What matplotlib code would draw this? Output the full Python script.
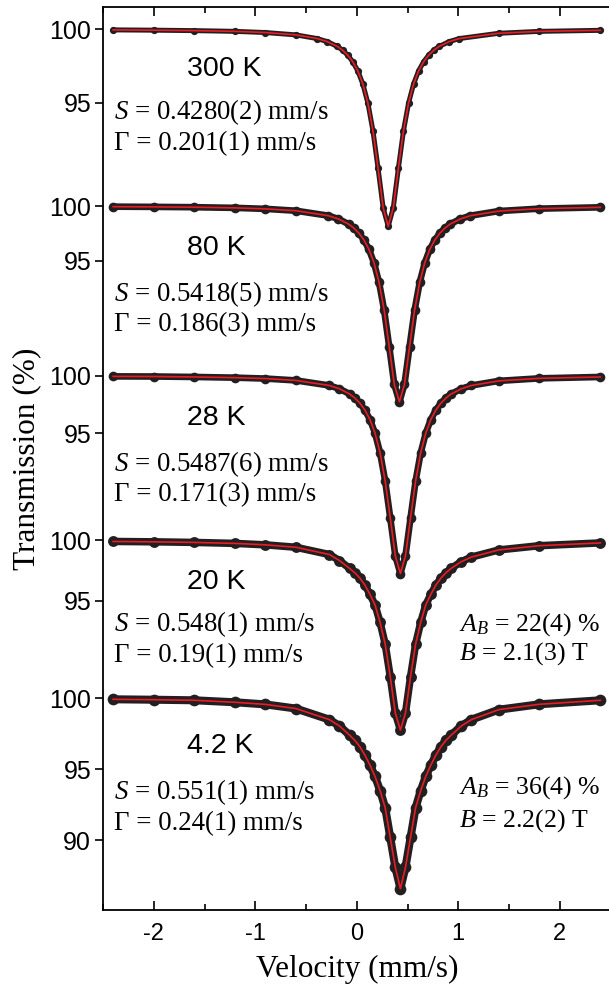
import matplotlib
matplotlib.use('Agg')
import matplotlib.pyplot as plt
from matplotlib.ticker import MultipleLocator

plt.rcParams['font.family'] = ['Liberation Sans', 'DejaVu Sans']
plt.rcParams['mathtext.fontset'] = 'custom'
plt.rcParams['mathtext.rm'] = 'Liberation Serif'
plt.rcParams['mathtext.it'] = 'Liberation Serif:italic'
plt.rcParams['axes.unicode_minus'] = False

# Spectra: velocity (mm/s) and transmission (%)
v300 = [-2.4, -2.0, -1.6, -1.2, -0.9, -0.6, -0.39, -0.29, -0.19, -0.14, -0.09, -0.04, 0.01, 0.06,
        0.11, 0.16, 0.21, 0.26, 0.31, 0.36, 0.41, 0.46, 0.51, 0.56, 0.61, 0.66, 0.71, 0.76, 0.81,
        0.91, 1.01, 1.4, 1.8, 2.4]
t300 = [99.96, 99.94, 99.91, 99.86, 99.78, 99.62, 99.37, 99.16, 98.83, 98.58, 98.25, 97.80, 97.18, 96.28,
        94.97, 93.08, 90.54, 87.86, 86.60, 87.86, 90.54, 93.08, 94.97, 96.28, 97.18, 97.80, 98.25, 98.58, 98.83,
        99.16, 99.37, 99.73, 99.86, 99.93]

v80 = [-2.4, -2.0, -1.6, -1.2, -0.9, -0.6, -0.28, -0.18, -0.08, -0.03, 0.02, 0.07, 0.12, 0.17,
       0.22, 0.27, 0.32, 0.37, 0.42, 0.47, 0.52, 0.57, 0.62, 0.67, 0.72, 0.77, 0.82, 0.87, 0.92,
       1.02, 1.12, 1.4, 1.8, 2.4]
t80 = [99.94, 99.92, 99.89, 99.83, 99.74, 99.57, 99.12, 98.82, 98.35, 98.0, 97.54, 96.92, 96.06, 94.83,
       93.05, 90.53, 87.2, 83.78, 82.2, 83.78, 87.2, 90.53, 93.05, 94.83, 96.06, 96.92, 97.54, 98.0, 98.35,
       98.82, 99.12, 99.54, 99.76, 99.88]

v28 = [-2.4, -2.0, -1.6, -1.2, -0.9, -0.6, -0.27, -0.17, -0.07, -0.02, 0.03, 0.08, 0.13, 0.18,
       0.23, 0.28, 0.33, 0.38, 0.43, 0.48, 0.53, 0.58, 0.63, 0.68, 0.73, 0.78, 0.83, 0.88, 0.93,
       1.03, 1.13, 1.4, 1.8, 2.4]
t28 = [99.94, 99.93, 99.89, 99.83, 99.75, 99.59, 99.15, 98.86, 98.41, 98.07, 97.62, 97.02, 96.19, 95.01,
       93.29, 90.85, 87.64, 84.33, 82.8, 84.33, 87.64, 90.85, 93.29, 95.01, 96.19, 97.02, 97.62, 98.07, 98.41,
       98.86, 99.15, 99.55, 99.77, 99.89]

v20 = [-2.4, -2.0, -1.6, -1.2, -0.9, -0.6, -0.27, -0.17, -0.07, -0.02, 0.03, 0.08, 0.13, 0.18,
       0.23, 0.28, 0.33, 0.38, 0.43, 0.48, 0.53, 0.58, 0.63, 0.68, 0.73, 0.78, 0.83, 0.88, 0.93,
       1.03, 1.13, 1.4, 1.8, 2.4]
t20 = [99.88, 99.85, 99.8, 99.72, 99.6, 99.4, 98.8, 98.3, 97.65, 97.3, 96.86, 96.28, 95.51, 94.64,
       93.19, 91.4, 88.7, 85.7, 84.3, 85.7, 88.7, 91.4, 93.19, 94.64, 95.51, 96.28, 96.86, 97.3, 97.65,
       98.21, 98.59, 99.18, 99.53, 99.76]

v4 = [-2.4, -2.0, -1.6, -1.2, -0.9, -0.6, -0.27, -0.17, -0.07, -0.02, 0.03, 0.08, 0.13, 0.18,
      0.23, 0.28, 0.33, 0.38, 0.43, 0.48, 0.53, 0.58, 0.63, 0.68, 0.73, 0.78, 0.83, 0.88, 0.93,
      1.03, 1.13, 1.4, 1.8, 2.4]
t4 = [99.93, 99.9, 99.86, 99.72, 99.57, 99.28, 98.5, 98.05, 97.4, 97.05, 96.6, 96.0, 95.3, 94.5,
      93.5, 92.3, 90.2, 88.1, 86.6, 88.1, 90.2, 92.3, 93.5, 94.5, 95.3, 96.0, 96.6, 97.05, 97.4,
      98.05, 98.5, 99.2, 99.58, 99.86]

temps = ['300 K', '80 K', '28 K', '20 K', '4.2 K']
s_labels = ['0.4280(2)', '0.5418(5)', '0.5487(6)', '0.548(1)', '0.551(1)']
g_labels = ['0.201(1)', '0.186(3)', '0.171(3)', '0.19(1)', '0.24(1)']
ab_labels = [None, None, None, '22(4)', '36(4)']
b_labels = [None, None, None, '2.1(3)', '2.2(2)']
yticks = [[100, 95], [100, 95], [100, 95], [100, 95], [100, 95, 90]]

spectra = [(v300, t300), (v80, t80), (v28, t28), (v20, t20), (v4, t4)]

# layout (pixels): where 100 % sits in each panel and pixels per %
y100_px = [29.3, 206, 375.7, 540, 698.3]
px_per_pct = [14.7, 11.0, 11.5, 12.1, 14.2]
band_w = [3.6, 4.8, 4.8, 5.4, 5.8]
# text heights in each panel (in % units): temperature, S, Gamma, A_B, B
txt_y = [(97.3, 94.37, 92.2, None, None),
         (96.18, 92.0, 89.18, None, None),
         (96.32, 92.32, 89.63, None, None),
         (96.53, 93.06, 90.41, 92.98, 90.58),
         (96.64, 93.40, 91.15, 93.68, 91.36)]

W, H = 609, 988
left, right, top, bottom = 103, 610.5, 7, 910
rect = [left / W, 1 - bottom / H, (right - left) / W, (bottom - top) / H]

fig = plt.figure(figsize=(W / 100, H / 100), dpi=100)
ax = fig.add_axes(rect)
ax.set_xlim(-2.5, 2.5)
ax.set_ylim(0, 1)
ax.set_yticks([])
ax.spines['right'].set_visible(False)
for s in ['left', 'top', 'bottom']:
    ax.spines[s].set_linewidth(1.3)
ax.xaxis.set_major_locator(MultipleLocator(1))
ax.xaxis.set_minor_locator(MultipleLocator(0.5))
ax.tick_params(axis='x', which='both', direction='in', top=True, bottom=True,
               labelsize=17, pad=9, width=1.2)
ax.tick_params(axis='x', which='major', length=6.5)
ax.tick_params(axis='x', which='minor', length=4)
ax.set_xlabel('Velocity (mm/s)', family='Liberation Serif', fontsize=22.5)
ax.xaxis.set_label_coords(0.5, -0.05)
ax.set_ylabel('Transmission (%)', family='Liberation Serif', fontsize=22.5)
ax.yaxis.set_label_coords((41 - left) / (right - left), 0.5)

dark = '#231f20'
red = '#ec1c24'
serif = 'Liberation Serif'

for i, (v, t) in enumerate(spectra):
    k = px_per_pct[i]
    lo = 100 - (bottom - y100_px[i]) / k
    hi = 100 + (y100_px[i] - top) / k
    pax = fig.add_axes(rect)
    pax.patch.set_visible(False)
    for s in pax.spines.values():
        s.set_visible(False)
    pax.set_xlim(-2.5, 2.5)
    pax.set_ylim(lo, hi)
    pax.set_xticks([])
    pax.set_yticks(yticks[i])
    pax.tick_params(axis='y', direction='out', length=6, width=1.2, labelsize=18, pad=2.5)

    pax.plot(v, t, color=dark, lw=band_w[i], solid_joinstyle='round', solid_capstyle='round', zorder=2)
    pax.plot(v, t, 'o', color=dark, ms=band_w[i] * 1.45, mew=0, zorder=2)
    pax.plot(v, t, color=red, lw=1.2, zorder=3)

    ty = txt_y[i]
    pax.text(-1.67, ty[0], temps[i], fontsize=20.5, va='center', ha='left')
    pax.text(-2.39, ty[1], r'$S$ = ' + s_labels[i] + ' mm/s', family=serif, fontsize=19.4,
             va='center', ha='left')
    pax.text(-2.39, ty[2], '\u0393 = ' + g_labels[i] + ' mm/s', family=serif, fontsize=19.4,
             va='center', ha='left')
    if ab_labels[i]:
        pax.text(1.01, ty[3], r'$A_B$ = ' + ab_labels[i] + ' %', family=serif, fontsize=18.6,
                 va='center', ha='left')
        pax.text(1.01, ty[4], r'$B$ = ' + b_labels[i] + ' T', family=serif, fontsize=18.6,
                 va='center', ha='left')

fig.savefig('out.png', dpi=100)
